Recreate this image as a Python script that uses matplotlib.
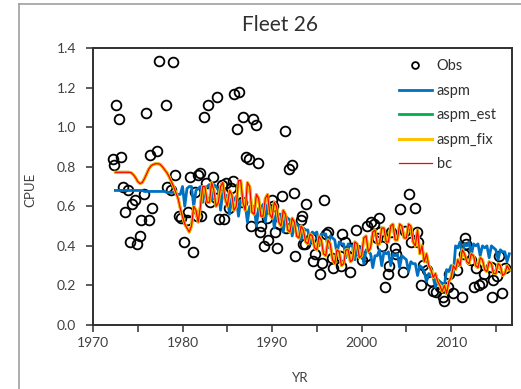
import matplotlib
matplotlib.use("Agg")
import matplotlib.pyplot as plt
from matplotlib.lines import Line2D
from matplotlib.ticker import MultipleLocator
import numpy as np

plt.rcParams['font.family'] = ['Lato', 'DejaVu Sans']

# observed CPUE (year, value)
obs_yr = [1972.2, 1972.4, 1972.6, 1972.9, 1973.1, 1973.3, 1973.6, 1973.9, 1974.1, 1974.4,
          1974.7, 1974.9, 1975.2, 1975.4, 1975.7, 1975.9, 1976.2, 1976.4, 1976.6, 1977.1,
          1977.4, 1978.2, 1978.3, 1978.7, 1978.9, 1979.2, 1979.6, 1979.8, 1980.2, 1980.5,
          1980.6, 1980.8, 1981.2, 1981.4, 1981.6, 1981.7, 1981.9, 1982.1, 1982.4, 1982.6,
          1982.8, 1983.1, 1983.4, 1983.7, 1983.9, 1984.1, 1984.4, 1984.6, 1984.9, 1985.2,
          1985.4, 1985.6, 1985.8, 1986.1, 1986.3, 1986.6, 1986.8, 1987.1, 1987.4, 1987.7,
          1987.9, 1988.2, 1988.4, 1988.6, 1988.8, 1989.1, 1989.4, 1989.6, 1990.0, 1990.1,
          1990.3, 1990.6, 1990.8, 1991.1, 1991.4, 1991.6, 1991.9, 1992.2, 1992.4, 1992.6,
          1993.2, 1993.4, 1993.5, 1993.7, 1993.8, 1994.3, 1994.6, 1994.8, 1995.4, 1995.6,
          1995.8, 1996.0, 1996.3, 1996.7, 1996.8, 1997.6, 1997.7, 1997.8, 1998.1, 1998.7,
          1998.8, 1999.0, 1999.4, 1999.5, 2000.1, 2000.5, 2000.6, 2001.1, 2001.4, 2001.7,
          2001.9, 2002.1, 2002.3, 2002.6, 2002.9, 2003.1, 2003.3, 2003.7, 2003.9, 2004.3,
          2004.6, 2004.9, 2005.3, 2005.5, 2006.0, 2006.2, 2006.3, 2006.6, 2006.9, 2007.3,
          2007.7, 2008.0, 2008.3, 2008.8, 2009.1, 2009.2, 2009.6, 2009.8, 2010.2, 2010.7,
          2011.2, 2011.4, 2011.6, 2011.7, 2012.2, 2012.6, 2012.8, 2013.1, 2013.5, 2013.7,
          2014.5, 2014.6, 2014.7, 2015.1, 2015.4, 2015.7, 2016.0]
obs_cpue = [0.84, 0.81, 1.11, 1.04, 0.85, 0.70, 0.57, 0.68, 0.42, 0.61,
            0.63, 0.41, 0.45, 0.53, 0.66, 1.07, 0.53, 0.86, 0.59, 0.88,
            1.335, 1.11, 0.70, 0.68, 1.33, 0.76, 0.55, 0.54, 0.42, 0.53,
            0.57, 0.75, 0.37, 0.67, 0.55, 0.76, 0.77, 0.55, 1.05, 0.72,
            1.11, 0.62, 0.75, 0.64, 1.15, 0.535, 0.71, 0.535, 0.72, 0.59,
            0.69, 0.73, 1.17, 0.99, 1.18, 0.62, 1.05, 0.85, 0.84, 0.50,
            1.04, 1.01, 0.82, 0.47, 0.50, 0.40, 0.54, 0.43, 0.63, 0.60,
            0.47, 0.39, 0.51, 0.65, 0.98, 0.49, 0.79, 0.81, 0.665, 0.35,
            0.53, 0.55, 0.41, 0.41, 0.61, 0.44, 0.325, 0.36, 0.26, 0.315,
            0.63, 0.46, 0.47, 0.34, 0.29, 0.35, 0.30, 0.46, 0.42, 0.27,
            0.39, 0.39, 0.48, 0.38, 0.33, 0.35, 0.50, 0.52, 0.51, 0.44,
            0.54, 0.47, 0.40, 0.19, 0.26, 0.30, 0.47, 0.39, 0.36, 0.585,
            0.27, 0.475, 0.66, 0.42, 0.59, 0.47, 0.42, 0.20, 0.305, 0.28,
            0.22, 0.17, 0.165, 0.19, 0.14, 0.12, 0.19, 0.26, 0.16, 0.28,
            0.14, 0.36, 0.44, 0.41, 0.33, 0.19, 0.29, 0.20, 0.21, 0.26,
            0.295, 0.14, 0.23, 0.25, 0.35, 0.16, 0.29]

# model fits, quarterly from 1972.5 to 2016.5
fit_yr = np.arange(1972.5, 2016.6, 0.25)

aspm = [0.68, 0.68,
        0.68, 0.68, 0.68, 0.68,
        0.68, 0.68, 0.68, 0.68,
        0.68, 0.68, 0.68, 0.675,
        0.675, 0.675, 0.675, 0.675,
        0.675, 0.675, 0.675, 0.675,
        0.675, 0.67, 0.67, 0.67,
        0.67, 0.665, 0.66, 0.66,
        0.70, 0.60, 0.69, 0.70,
        0.70, 0.60, 0.68, 0.69,
        0.70, 0.62, 0.69, 0.70,
        0.71, 0.63, 0.71, 0.70,
        0.68, 0.58, 0.67, 0.66,
        0.65, 0.56, 0.64, 0.63,
        0.65, 0.55, 0.63, 0.62,
        0.61, 0.52, 0.60, 0.59,
        0.60, 0.50, 0.59, 0.59,
        0.61, 0.52, 0.61, 0.60,
        0.59, 0.49, 0.57, 0.56,
        0.56, 0.47, 0.55, 0.54,
        0.53, 0.45, 0.52, 0.51,
        0.50, 0.43, 0.49, 0.48,
        0.48, 0.41, 0.47, 0.46,
        0.47, 0.40, 0.46, 0.46,
        0.46, 0.39, 0.45, 0.44,
        0.43, 0.36, 0.42, 0.41,
        0.41, 0.34, 0.41, 0.40,
        0.40, 0.33, 0.40, 0.39,
        0.39, 0.31, 0.38, 0.37,
        0.36, 0.29, 0.35, 0.35,
        0.38, 0.30, 0.37, 0.36,
        0.37, 0.30, 0.36, 0.35,
        0.36, 0.29, 0.35, 0.34,
        0.33, 0.27, 0.32, 0.31,
        0.31, 0.25, 0.30, 0.29,
        0.27, 0.22, 0.26, 0.25,
        0.24, 0.19, 0.23, 0.22,
        0.21, 0.20, 0.28, 0.27,
        0.30, 0.26, 0.40, 0.39,
        0.42, 0.35, 0.41, 0.40,
        0.42, 0.35, 0.41, 0.40,
        0.41, 0.35, 0.40, 0.39,
        0.40, 0.34, 0.40, 0.39,
        0.38, 0.33, 0.38, 0.37,
        0.37, 0.32, 0.36]

bc = [0.772, 0.772,
      0.772, 0.772, 0.772, 0.772,
      0.772, 0.77, 0.76, 0.745,
      0.725, 0.715, 0.72, 0.74,
      0.765, 0.79, 0.805, 0.812,
      0.815, 0.815, 0.812, 0.80,
      0.785, 0.77, 0.75, 0.725,
      0.70, 0.67, 0.64, 0.59,
      0.547, 0.51, 0.49, 0.47,
      0.50, 0.60, 0.58, 0.52,
      0.60, 0.70, 0.70, 0.62,
      0.62, 0.72, 0.68, 0.60,
      0.62, 0.70, 0.72, 0.64,
      0.60, 0.68, 0.66, 0.58,
      0.60, 0.73, 0.73, 0.62,
      0.58, 0.72, 0.70, 0.57,
      0.56, 0.66, 0.64, 0.55,
      0.55, 0.64, 0.66, 0.56,
      0.54, 0.62, 0.60, 0.52,
      0.50, 0.58, 0.56, 0.48,
      0.47, 0.54, 0.52, 0.45,
      0.44, 0.50, 0.48, 0.42,
      0.41, 0.46, 0.45, 0.39,
      0.38, 0.45, 0.43, 0.36,
      0.35, 0.43, 0.41, 0.33,
      0.31, 0.38, 0.37, 0.30,
      0.31, 0.38, 0.38, 0.32,
      0.33, 0.42, 0.41, 0.34,
      0.35, 0.44, 0.45, 0.37,
      0.39, 0.47, 0.48, 0.41,
      0.41, 0.49, 0.49, 0.42,
      0.42, 0.50, 0.51, 0.43,
      0.43, 0.51, 0.50, 0.44,
      0.44, 0.51, 0.50, 0.42,
      0.40, 0.48, 0.36, 0.40,
      0.32, 0.36, 0.30, 0.28,
      0.24, 0.26, 0.22, 0.20,
      0.17, 0.20, 0.16, 0.22,
      0.24, 0.30, 0.28, 0.33,
      0.30, 0.38, 0.36, 0.32,
      0.31, 0.36, 0.35, 0.30,
      0.29, 0.34, 0.33, 0.28,
      0.27, 0.32, 0.31, 0.26,
      0.26, 0.31, 0.30, 0.25,
      0.26, 0.30, 0.28]

# the est and fix runs sit right on top of bc
aspm_est = bc
aspm_fix = bc

fig = plt.figure(figsize=(5.21, 3.89), dpi=100)
ax = fig.add_axes([0.1785, 0.1645, 0.8042, 0.7121])

ax.plot(obs_yr, obs_cpue, 'o', mfc='none', mec='black', mew=1.3, ms=7, label='Obs')
ax.plot(fit_yr, aspm, color='#0070C0', lw=2.0, label='aspm')
ax.plot(fit_yr, aspm_est, color='#00B050', lw=2.0, label='aspm_est')
ax.plot(fit_yr, aspm_fix, color='#FFC000', lw=2.2, label='aspm_fix')
ax.plot(fit_yr, bc, color='#FF0000', lw=0.9, label='bc')

ax.set_xlim(1970, 2016.8)
ax.set_ylim(0, 1.4)
ax.xaxis.set_major_locator(MultipleLocator(10))
ax.xaxis.set_minor_locator(MultipleLocator(5))
ax.yaxis.set_major_locator(MultipleLocator(0.2))
ax.yaxis.set_major_formatter(plt.FormatStrFormatter('%.1f'))
ax.tick_params(which='both', direction='out', length=5, width=1.2, labelsize=10, colors='#404040')
ax.tick_params(axis='y', pad=7)
for s in ax.spines.values():
    s.set_linewidth(1.4)
    s.set_color('#303030')

ax.set_xlabel('YR', fontsize=9.5, color='#404040')
ax.set_ylabel('CPUE', fontsize=9.5, color='#404040')
ax.xaxis.set_label_coords(0.494, -0.17)
ax.yaxis.set_label_coords(-0.134, 0.487)
fig.text(280 / 521, 1 - 25 / 389, 'Fleet 26', fontsize=15, color='#303030',
         ha='center', va='center')

leg = ax.legend(loc='upper left', bbox_to_anchor=(0.712, 0.985), frameon=False,
                fontsize=10.5, handlelength=2.3, handletextpad=0.3, labelspacing=0.72,
                borderpad=0, markerscale=0.7)
for t in leg.get_texts():
    t.set_color('#303030')

# chart area border
fig.add_artist(Line2D([19 / 521, 19 / 521], [0, 1 - 4 / 389], color='#a0a0a0', lw=1.2))
fig.add_artist(Line2D([19 / 521, 1], [1 - 4 / 389, 1 - 4 / 389], color='#a0a0a0', lw=1.2))

fig.savefig('out.png', dpi=100)
